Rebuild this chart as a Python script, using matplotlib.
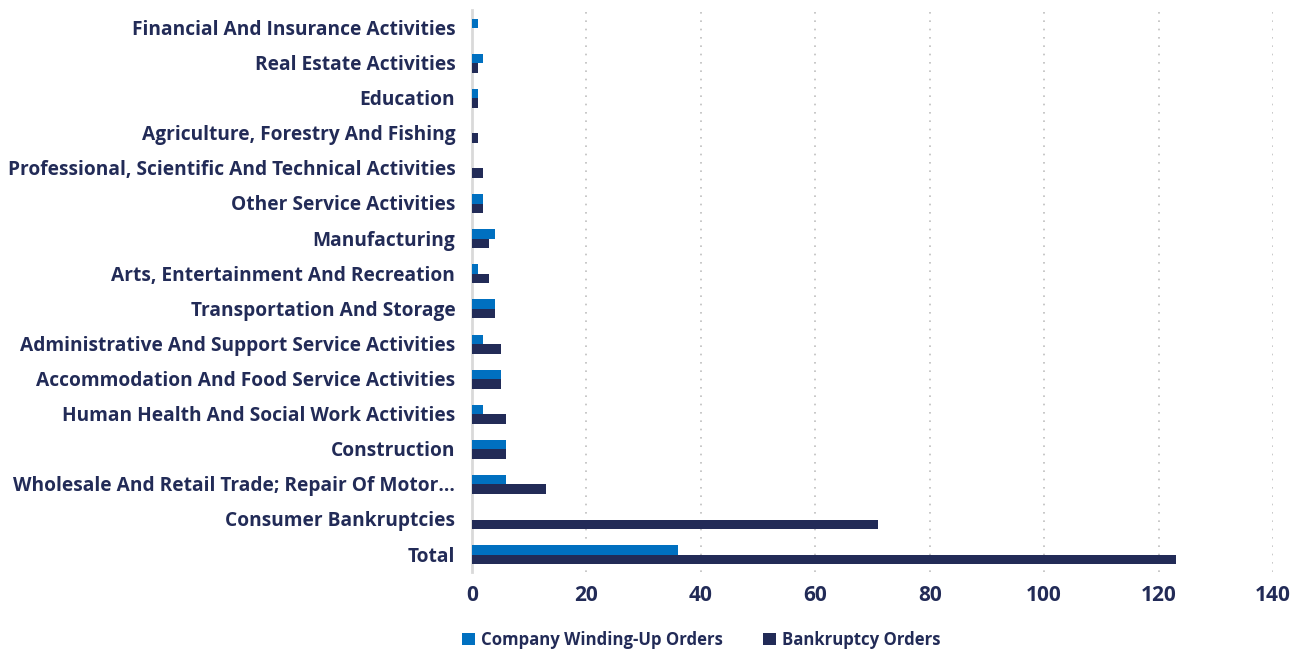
import matplotlib
matplotlib.use("Agg")
import matplotlib.pyplot as plt
import numpy as np

categories = [
    "Financial And Insurance Activities",
    "Real Estate Activities",
    "Education",
    "Agriculture, Forestry And Fishing",
    "Professional, Scientific And Technical Activities",
    "Other Service Activities",
    "Manufacturing",
    "Arts, Entertainment And Recreation",
    "Transportation And Storage",
    "Administrative And Support Service Activities",
    "Accommodation And Food Service Activities",
    "Human Health And Social Work Activities",
    "Construction",
    "Wholesale And Retail Trade; Repair Of Motor\u2026",
    "Consumer Bankruptcies",
    "Total",
]
winding_up_orders = [1, 2, 1, 0, 0, 2, 4, 1, 4, 2, 5, 2, 6, 6, 0, 36]
bankruptcy_orders = [0, 1, 1, 1, 2, 2, 3, 3, 4, 5, 5, 6, 6, 13, 71, 123]
x_ticks = [0, 20, 40, 60, 80, 100, 120, 140]

BLUE = "#0070C0"
NAVY = "#222B57"

plt.rcParams["font.family"] = ["Open Sans", "DejaVu Sans"]

fig = plt.figure(figsize=(13.06, 6.51), dpi=100)
ax = fig.add_axes([0.3614, 0.122, 0.6133, 0.863])

y = np.arange(len(categories))
h = 0.27
ax.barh(y - h / 2 + 0.02, winding_up_orders, height=h, color=BLUE, label="Company Winding-Up Orders", zorder=3)
ax.barh(y + h / 2 + 0.02, bankruptcy_orders, height=h, color=NAVY, label="Bankruptcy Orders", zorder=3)

ax.set_ylim(len(categories) - 0.5, -0.5)
ax.set_xlim(0, 140)
ax.set_yticks(y)
ax.set_yticklabels(categories, fontsize=13.8, fontweight="bold", color=NAVY)
ax.set_xticks(x_ticks)
ax.set_xticklabels([str(t) for t in x_ticks], fontsize=15, fontweight="bold", color=NAVY)
ax.tick_params(axis="both", length=0)
ax.tick_params(axis="y", pad=12)
ax.tick_params(axis="x", pad=10)

for s in ["top", "right", "bottom"]:
    ax.spines[s].set_visible(False)
ax.spines["left"].set_color("#D9D9D9")
ax.spines["left"].set_linewidth(2)
ax.spines["left"].set_zorder(2)

ax.grid(axis="x", linestyle=(0, (1, 4)), color="#BFBFBF", linewidth=1.2, zorder=0)
ax.xaxis.get_gridlines()[0].set_visible(False)

leg = fig.legend(
    loc="center",
    bbox_to_anchor=(0.537, 1 - 640 / 651),
    bbox_transform=fig.transFigure,
    ncol=2,
    frameon=False,
    prop={"weight": "bold", "size": 12.1},
    handlelength=0.75,
    handleheight=0.75,
    handletextpad=0.35,
    columnspacing=2.4,
)
for t in leg.get_texts():
    t.set_color(NAVY)

fig.savefig("out.png", dpi=100, facecolor="white")
